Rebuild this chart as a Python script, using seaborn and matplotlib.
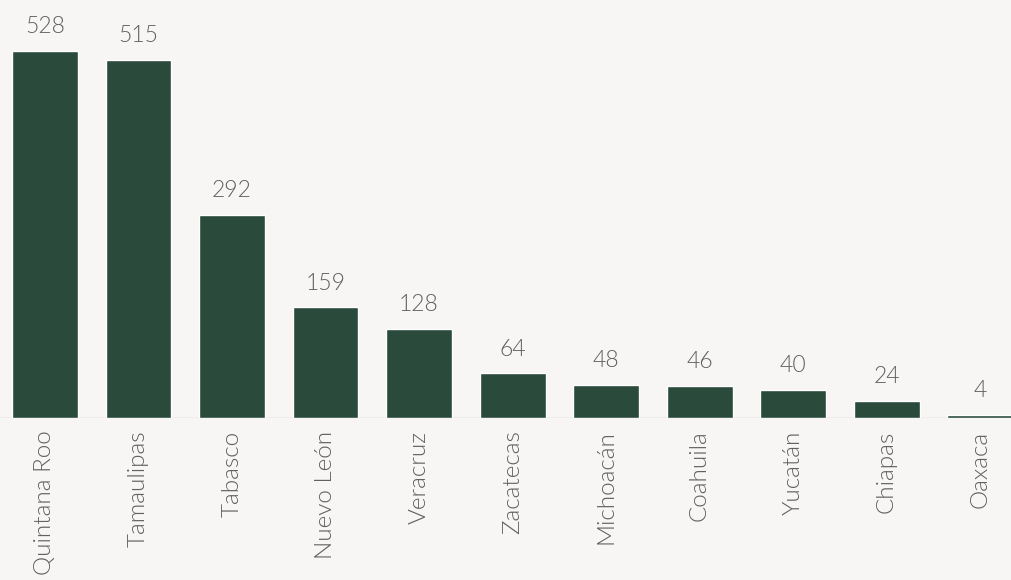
import matplotlib
matplotlib.use("Agg")
import matplotlib.pyplot as plt
import seaborn as sns
import pandas as pd

states = ["Quintana Roo", "Tamaulipas", "Tabasco", "Nuevo León", "Veracruz",
          "Zacatecas", "Michoacán", "Coahuila", "Yucatán", "Chiapas", "Oaxaca"]
counts = [528, 515, 292, 159, 128, 64, 48, 46, 40, 24, 4]

bar_color = "#2a4a3c"
text_color = "#606060"
paper = "#f7f6f4"

sns.set_theme(style="white")
plt.rcParams["font.family"] = ["Lato", "DejaVu Sans"]

df = pd.DataFrame({"estado": states, "casos": counts})

fig = plt.figure(figsize=(10.11, 5.80), dpi=100, facecolor=paper)
ax = fig.add_axes([0.0, 162 / 580, 1.0, 418 / 580])
ax.set_facecolor(paper)

sns.barplot(data=df, x="estado", y="casos", color=bar_color, width=0.705,
            saturation=1, ax=ax)

ax.set_xlim(-0.481, 10.33)
ax.set_ylim(0, 601)

for i, v in enumerate(counts):
    ax.annotate(f"{v}", xy=(i, v), xytext=(0, 10), textcoords="offset points",
                ha="center", va="bottom", fontsize=16.5, fontweight=300,
                color=text_color)

ax.axhline(0, color="#c8c8c8", lw=1.0, zorder=0)
ax.set_xlabel("")
ax.set_ylabel("")
ax.set_yticks([])
ax.tick_params(axis="x", length=0, pad=9)
for lbl in ax.get_xticklabels():
    lbl.set_rotation(90)
    lbl.set_fontsize(17.5)
    lbl.set_fontweight(300)
    lbl.set_color(text_color)
    lbl.set_va("top")
    lbl.set_ha("center")
sns.despine(ax=ax, left=True, bottom=True)

fig.savefig("out.png", dpi=100, facecolor=paper)
